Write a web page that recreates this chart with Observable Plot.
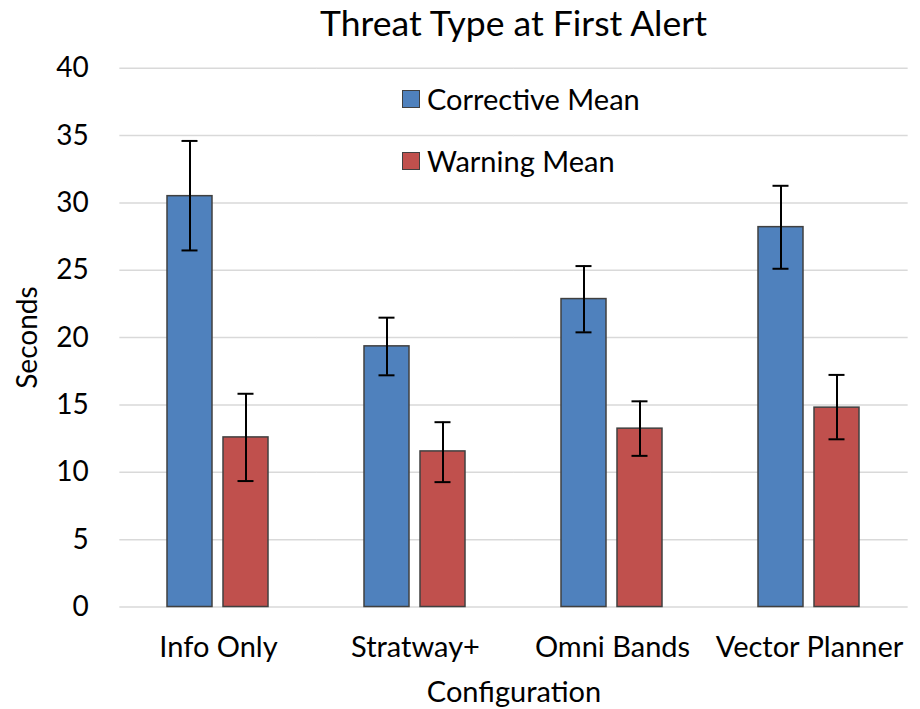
<!DOCTYPE html>
<html>
<head>
<meta charset="utf-8">
<script src="https://cdn.jsdelivr.net/npm/d3@7"></script>
<script src="https://cdn.jsdelivr.net/npm/@observablehq/plot@0.6"></script>
<style>
  html, body { margin: 0; padding: 0; background: #fff; }
  body { width: 920px; height: 709px; overflow: hidden; font-family: Lato, "Open Sans", sans-serif; }
  #wrap { position: relative; width: 920px; height: 709px; }
  #title { height: 46px; line-height: 46px; text-align: center; font-size: 35.5px; color: #000; padding-left: 107px; box-sizing: border-box; width: 920px; white-space: nowrap; }
  .item { position: absolute; left: 402px; display: flex; align-items: center; height: 30px; line-height: 30px; font-size: 29px; color: #000; white-space: nowrap; }
  .sw { width: 16px; height: 16px; border: 1.5px solid #404040; margin-right: 7px; }
</style>
</head>
<body>
<div id="wrap">
  <div id="title">Threat Type at First Alert</div>
  <div id="chart"></div>
</div>
<script>
const configs = ["Info Only", "Stratway+", "Omni Bands", "Vector Planner"];
const seriesNames = ["Corrective Mean", "Warning Mean"];
const seriesColors = ["#4F81BD", "#C0504D"];
const correctiveMean = [30.5, 19.35, 22.86, 28.2];
const correctiveLo   = [26.47, 17.2, 20.39, 25.11];
const correctiveHi   = [34.6, 21.48, 25.31, 31.27];
const warningMean = [12.59, 11.55, 13.24, 14.8];
const warningLo   = [9.35, 9.27, 11.22, 12.45];
const warningHi   = [15.83, 13.72, 15.27, 17.23];
const yTicks = [0, 5, 10, 15, 20, 25, 30, 35, 40];

const rows = [];
configs.forEach((c, i) => {
  rows.push({config: c, series: seriesNames[0], mean: correctiveMean[i], lo: correctiveLo[i], hi: correctiveHi[i]});
  rows.push({config: c, series: seriesNames[1], mean: warningMean[i], lo: warningLo[i], hi: warningHi[i]});
});

const chart = Plot.plot({
  width: 920,
  height: 663,
  marginLeft: 119,
  marginRight: 12,
  marginTop: 21.7,
  marginBottom: 102.5,
  style: {fontFamily: "Lato, 'Open Sans', sans-serif", fontSize: "28px", color: "#000", background: "#fff"},
  facet: {data: rows, x: "config"},
  fx: {domain: configs, paddingInner: 0.483, paddingOuter: 0.2415},
  x: {domain: seriesNames, paddingInner: 0.195, paddingOuter: 0, axis: null},
  y: {domain: [0, 40]},
  color: {domain: seriesNames, range: seriesColors},
  marks: [
    Plot.ruleY(yTicks, {y: d => d, stroke: "#D9D9D9", strokeWidth: 1.5, insetLeft: -47.65, insetRight: -47.65}),
    Plot.axisY({ticks: yTicks, tickSize: 0, tickPadding: 78.7, fontSize: 28, label: "Seconds", labelAnchor: "center", labelOffset: 150, labelArrow: "none"}),
    Plot.axisFx({anchor: "bottom", tickSize: 0, tickPadding: 29.5, fontSize: 29, label: "Configuration", labelAnchor: "center", labelOffset: 95}),
    Plot.barY(rows, {x: "series", y: "mean", fill: "series", stroke: "#404040", strokeWidth: 1.5}),
    Plot.ruleX(rows, {x: "series", y1: "lo", y2: "hi", stroke: "#000", strokeWidth: 2}),
    Plot.tickY(rows, {x: "series", y: "lo", stroke: "#000", strokeWidth: 2, insetLeft: 14.5, insetRight: 14.5}),
    Plot.tickY(rows, {x: "series", y: "hi", stroke: "#000", strokeWidth: 2, insetLeft: 14.5, insetRight: 14.5})
  ]
});
document.getElementById("chart").appendChild(chart);

const wrap = document.getElementById("wrap");
const legendTops = [83.6, 146.3];
seriesNames.forEach((s, i) => {
  const it = document.createElement("div");
  it.className = "item";
  it.style.top = legendTops[i] + "px";
  const sw = document.createElement("div");
  sw.className = "sw";
  sw.style.background = seriesColors[i];
  const tx = document.createElement("span");
  tx.textContent = s;
  it.appendChild(sw); it.appendChild(tx);
  wrap.appendChild(it);
});
</script>
</body>
</html>
